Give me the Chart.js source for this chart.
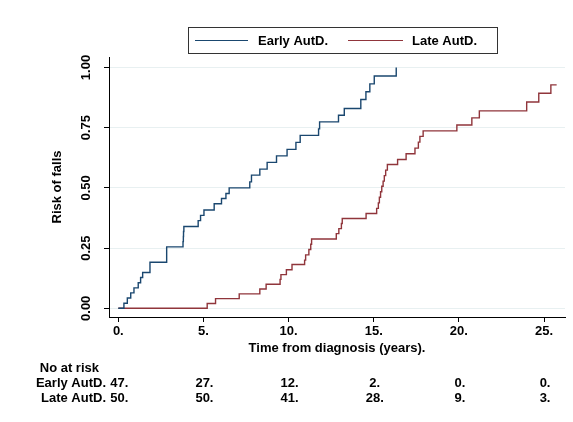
<!DOCTYPE html>
<html><head><meta charset="utf-8">
<script src="https://cdn.jsdelivr.net/npm/chart.js@4/dist/chart.umd.min.js"></script>
<style>html,body{margin:0;padding:0;background:#fff}#wrap{width:573px;height:422px}</style>
</head><body><div id="wrap"><canvas id="c" width="573" height="422"></canvas></div>
<script>
const earlyTimes = [0, 0.33, 0.53, 0.73, 0.92, 1.17, 1.31, 1.43, 1.86, 1.86, 2.84, 2.84, 2.84, 3.80, 3.82, 3.83, 3.85, 4.69, 4.83, 5.03, 5.63, 6.06, 6.32, 6.51, 7.72, 7.82, 8.31, 8.74, 9.29, 9.91, 10.43, 10.68, 11.76, 11.82, 12.93, 13.27, 14.24, 14.54, 14.77, 15.03, 16.32];
const earlyRisk  = [0, 0.021, 0.043, 0.064, 0.085, 0.106, 0.128, 0.149, 0.170, 0.191, 0.213, 0.234, 0.255, 0.277, 0.298, 0.319, 0.340, 0.364, 0.386, 0.408, 0.434, 0.456, 0.477, 0.500, 0.525, 0.553, 0.578, 0.606, 0.633, 0.660, 0.689, 0.718, 0.745, 0.774, 0.802, 0.830, 0.867, 0.899, 0.932, 0.965, 1.0];
const lateTimes = [0, 5.22, 5.71, 7.10, 8.31, 8.68, 9.50, 9.55, 9.87, 10.20, 10.94, 11.00, 11.19, 11.30, 11.35, 12.80, 12.95, 13.10, 13.15, 14.55, 15.17, 15.27, 15.33, 15.40, 15.47, 15.55, 15.62, 15.70, 15.80, 16.40, 16.90, 17.42, 17.62, 17.71, 17.90, 19.88, 20.76, 21.20, 23.98, 24.69, 25.40, 25.74];
const lateRisk  = [0, 0.020, 0.040, 0.060, 0.080, 0.100, 0.120, 0.140, 0.160, 0.182, 0.200, 0.222, 0.244, 0.266, 0.288, 0.310, 0.331, 0.352, 0.373, 0.394, 0.415, 0.438, 0.461, 0.484, 0.507, 0.528, 0.551, 0.574, 0.597, 0.618, 0.642, 0.665, 0.690, 0.714, 0.737, 0.761, 0.791, 0.820, 0.857, 0.893, 0.928, 0.928];
const seriesNames = ['Early AutD.', 'Late AutD.'];
const xTickValues = [0, 5, 10, 15, 20, 25];
const xTickLabels = ['0.', '5.', '10.', '15.', '20.', '25.'];
const yTickValues = [0, 0.25, 0.5, 0.75, 1];
const yTickLabels = ['0.00', '0.25', '0.50', '0.75', '1.00'];
const atRiskTimes = [0, 5, 10, 15, 20, 25];
const earlyAtRisk = ['47.', '27.', '12.', '2.', '0.', '0.'];
const lateAtRisk  = ['50.', '50.', '41.', '28.', '9.', '3.'];

const BLUE = '#1a476f', RED = '#90353b';
const FONT = {family: 'Liberation Sans, Arial, sans-serif', size: 13, weight: 'bold'};
const fontStr = 'bold 13px "Liberation Sans", Arial, sans-serif';

const extras = {
  id: 'extras',
  afterDraw(chart) {
    const ctx = chart.ctx;
    const xs = chart.scales.x;
    ctx.save();
    // legend
    ctx.strokeStyle = '#333';
    ctx.lineWidth = 1;
    ctx.strokeRect(188.5, 27.5, 309, 26);
    const ds = chart.data.datasets;
    const items = [{x1: 195, x2: 248, tx: 258}, {x1: 348, x2: 403, tx: 412}];
    ctx.font = fontStr;
    ctx.textBaseline = 'middle';
    ctx.textAlign = 'left';
    items.forEach((it, i) => {
      ctx.strokeStyle = ds[i].borderColor;
      ctx.lineWidth = 1.2;
      ctx.beginPath(); ctx.moveTo(it.x1, 40.5); ctx.lineTo(it.x2, 40.5); ctx.stroke();
      ctx.fillStyle = '#000';
      ctx.fillText(ds[i].label, it.tx, 41);
    });
    // at-risk table
    ctx.fillStyle = '#000';
    ctx.textAlign = 'right';
    ctx.fillText('No at risk', 99, 368);
    ctx.fillText(seriesNames[0], 106, 383);
    ctx.fillText(seriesNames[1], 106, 398);
    ctx.textAlign = 'center';
    atRiskTimes.forEach((t, i) => {
      const px = xs.getPixelForValue(t) + 1;
      ctx.fillText(earlyAtRisk[i], px, 383);
      ctx.fillText(lateAtRisk[i], px, 398);
    });
    ctx.restore();
  }
};

new Chart(document.getElementById('c'), {
  type: 'line',
  data: {
    datasets: [
      {label: seriesNames[0], data: earlyTimes.map((t, i) => ({x: t, y: earlyRisk[i]})), borderColor: BLUE, borderWidth: 1.4, stepped: true, pointRadius: 0, fill: false},
      {label: seriesNames[1], data: lateTimes.map((t, i) => ({x: t, y: lateRisk[i]})), borderColor: RED, borderWidth: 1.4, stepped: true, pointRadius: 0, fill: false}
    ]
  },
  options: {
    responsive: false, animation: false, devicePixelRatio: 1,
    layout: {padding: {top: 57, right: 8, left: 0, bottom: 0}},
    plugins: {legend: {display: false}, tooltip: {enabled: false}},
    scales: {
      x: {
        type: 'linear', min: -0.546, max: 26.23,
        afterBuildTicks: a => { a.ticks = xTickValues.map(v => ({value: v})); },
        afterFit: s => { s.height = 105; },
        ticks: {callback: v => xTickLabels[xTickValues.indexOf(v)], maxRotation: 0, autoSkip: false, color: '#000', font: FONT, padding: 2},
        grid: {drawOnChartArea: false, drawTicks: true, tickLength: 5, tickColor: '#000', color: '#000'},
        border: {color: '#000', width: 1},
        title: {display: true, text: 'Time from diagnosis (years).', color: '#000', font: FONT, padding: {top: 0, bottom: 66}}
      },
      y: {
        type: 'linear', min: -0.0361, max: 1.0436,
        afterBuildTicks: a => { a.ticks = yTickValues.map(v => ({value: v})); },
        afterFit: s => { s.width = 109; },
        ticks: {callback: v => yTickLabels[yTickValues.indexOf(v)], minRotation: 90, maxRotation: 90, crossAlign: 'center', autoSkip: false, color: '#000', font: FONT, padding: 5},
        grid: {color: '#e8f0f1', drawTicks: true, tickLength: 5, tickColor: '#000', lineWidth: 1},
        border: {color: '#000', width: 1},
        title: {display: true, text: 'Risk of falls', color: '#000', font: FONT, padding: {top: 50, bottom: 0}}
      }
    }
  },
  plugins: [extras]
});
</script></body></html>
